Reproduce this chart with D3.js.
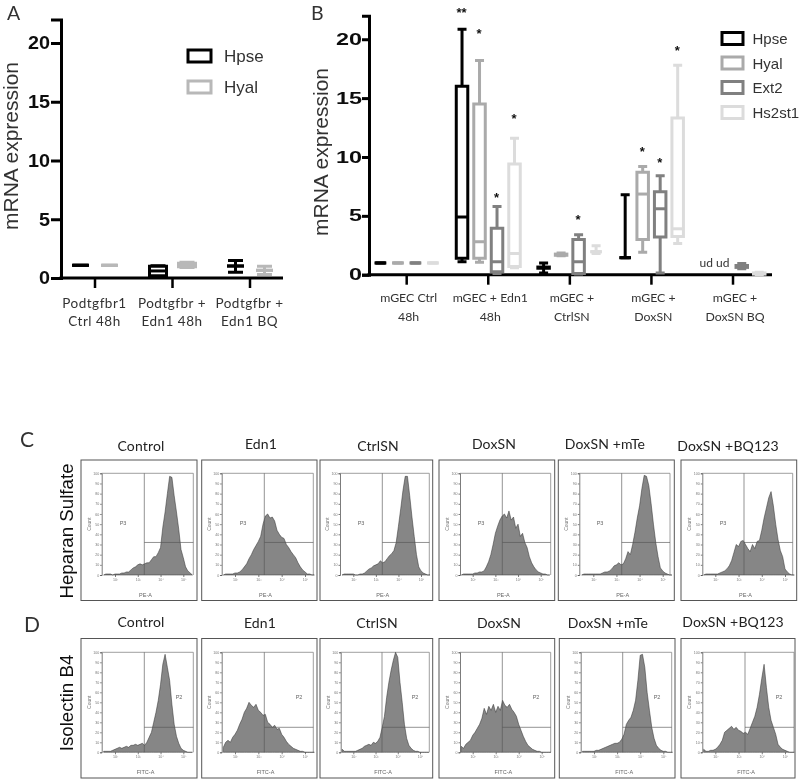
<!DOCTYPE html>
<html>
<head>
<meta charset="utf-8">
<script src="https://cdn.jsdelivr.net/npm/d3@7"></script>
<style>
  html, body { margin: 0; background: #fff; }
  svg { display: block; }
  text { fill: #333; }
  .arial { font-family: "Liberation Sans", Arial, sans-serif; }
  .label { font-family: Lato, sans-serif; }
  .flow-axis text { font-family: "Liberation Sans", sans-serif; font-size: 3.6px; fill: #777; }
</style>
</head>
<body>
<script>
// box values are [min, q1, median, q3, max]
var seriesA = ["Hpse", "Hyal"];
var categoriesA = ["Podtgfbr1|Ctrl 48h", "Podtgfbr +|Edn1 48h", "Podtgfbr +|Edn1 BQ"];
var hpseA = [[1.08, 1.08, 1.08, 1.08, 1.08], [0.15, 0.2, 0.6, 1.0, 1.05], [0.5, 1.02, 1.02, 1.02, 1.5]];
var hyalA = [[1.08, 1.08, 1.08, 1.08, 1.08], [0.9, 0.95, 1.1, 1.25, 1.35], [0.3, 0.65, 0.65, 0.65, 1.0]];

var seriesB = ["Hpse", "Hyal", "Ext2", "Hs2st1"];
var categoriesB = ["mGEC Ctrl|48h", "mGEC + Edn1|48h", "mGEC +|CtrlSN", "mGEC +|DoxSN", "mGEC +|DoxSN BQ"];
var hpseB = [[1, 1, 1, 1, 1], [1.1, 1.4, 4.9, 16, 20.85], [0.15, 0.55, 0.6, 0.65, 1.0], [1.45, 1.45, 1.45, 1.45, 6.8], null];
var hyalB = [[1, 1, 1, 1, 1], [1.05, 1.4, 2.8, 14.5, 18.2], [1.6, 1.65, 1.7, 1.75, 1.85], [1.9, 3.0, 6.85, 8.7, 9.2], null];
var ext2B = [[1, 1, 1, 1, 1], [0.1, 0.25, 1.1, 3.95, 5.8], [0.05, 0.1, 1.1, 3.0, 3.4], [0.15, 3.2, 5.6, 7.05, 8.4], [0.5, 0.62, 0.7, 0.78, 0.95]];
var hs2st1B = [[1, 1, 1, 1, 1], [0.6, 0.7, 1.8, 9.4, 11.6], [1.8, 1.95, 1.95, 1.95, 2.45], [2.65, 3.25, 3.9, 13.3, 17.8], [0, 0.05, 0.1, 0.15, 0.2]];

// significance marks: [category index, series index, mark, value]
var marksB = [
  [1, 0, "**", 22.4], [1, 1, "*", 20.6], [1, 2, "*", 6.7], [1, 3, "*", 13.4],
  [2, 2, "*", 4.85], [3, 1, "*", 10.6], [3, 2, "*", 9.7], [3, 3, "*", 19.2]
];
var yTicksBox = [0, 5, 10, 15, 20];

var flowTitles = ["Control", "Edn1", "CtrlSN", "DoxSN", "DoxSN +mTe", "DoxSN +BQ123"];
var flowLogBins = [1.5, 1.6, 1.7, 1.8, 1.9, 2.0, 2.1, 2.2, 2.3, 2.4, 2.5, 2.6, 2.7, 2.8, 2.9, 3.0, 3.1, 3.2, 3.3, 3.4,
  3.5, 3.6, 3.7, 3.8, 3.9, 4.0, 4.1, 4.2, 4.3, 4.4, 4.5, 4.6, 4.7, 4.8, 4.9, 5.0, 5.1, 5.2, 5.3, 5.4];
var flowXTicks = [2, 3, 4, 5];
var flowYTicks = [0, 10, 20, 30, 40, 50, 60, 70, 80, 90, 100];

// heparan sulfate histograms, counts as % of the axis
var hsControl = [0,1,1,1,0,1,1,1,2,2,3,3,5,7,8,10,11,10,11,12,12,15,18,18,22,27,47,62,80,97,96,78,62,45,25,17,8,4,2,0];
var hsEdn1 = [0,1,1,1,1,2,2,3,5,8,11,16,20,25,29,33,38,50,58,60,56,57,53,44,40,37,36,30,27,23,20,17,12,8,5,3,1,1,0,0];
var hsCtrlSN = [0,1,1,1,1,1,0,0,1,1,2,4,6,7,9,10,11,14,12,13,16,19,21,24,32,48,65,83,97,97,78,57,38,20,8,4,2,1,0,0];
var hsDoxSN = [0,1,1,1,1,1,2,2,3,3,4,8,13,20,30,41,48,54,58,60,56,63,54,57,46,50,38,41,32,27,18,12,8,5,3,2,1,1,0,0];
var hsMTe = [0,1,1,1,1,1,1,1,1,2,3,3,4,6,9,10,12,10,11,16,23,20,30,42,56,68,85,98,97,88,70,50,32,18,7,4,2,1,0,0];
var hsBQ = [0,1,1,1,1,1,1,2,3,4,6,9,14,22,30,28,33,34,30,26,23,30,26,33,34,44,56,66,76,82,68,50,35,24,18,6,3,1,0,0];

// isolectin B4 histograms
var ibControl = [1,1,1,1,2,3,4,5,4,5,6,5,7,7,8,7,8,9,7,10,15,20,30,40,52,68,88,98,85,72,48,28,16,9,4,2,1,0,0,0];
var ibEdn1 = [5,10,12,10,15,18,22,28,33,40,44,50,47,45,48,42,40,37,38,30,28,25,27,23,24,18,15,11,8,6,4,3,2,1,1,0,0,0,0,0];
var ibCtrlSN = [3,1,1,1,1,1,1,2,3,4,6,7,8,7,10,9,11,15,25,36,55,70,82,92,100,95,70,50,28,14,7,4,2,1,1,0,0,0,0,0];
var ibDoxSN = [6,4,8,10,12,17,20,24,28,34,44,38,46,42,48,40,46,42,52,47,45,48,43,40,36,28,22,16,11,7,5,3,2,1,1,0,0,0,0,0];
var ibMTe = [1,1,1,1,1,1,2,2,3,4,5,6,7,8,9,9,10,13,18,28,32,35,42,52,72,97,98,85,60,42,25,14,7,4,2,1,1,0,0,0];
var ibBQ = [3,1,1,2,2,3,5,8,12,20,22,24,26,23,25,22,21,19,20,18,24,30,36,45,58,74,88,65,45,32,25,18,8,5,3,2,1,0,0,0];

var width = 800, height = 781;

var svg = d3.select("body").append("svg")
    .attr("width", width)
    .attr("height", height)
    .attr("viewBox", `0 0 ${width} ${height}`);

svg.append("defs").append("filter")
    .attr("id", "soft")
    .attr("filterUnits", "userSpaceOnUse")
    .attr("x", 0).attr("y", 0)
    .attr("width", width).attr("height", height)
    .append("feGaussianBlur")
    .attr("stdDeviation", 0.4);

var root = svg.append("g").attr("filter", "url(#soft)");

function panelLetter(letter, x, y, size) {
  root.append("text").attr("class", "label")
      .attr("x", x).attr("y", y)
      .style("font-size", size + "px")
      .text(letter);
}

function boxPanel(opts) {
  var g = root.append("g");
  var y = d3.scaleLinear().domain([0, 22]).range([opts.y0, opts.yTop]);
  var x = d3.scaleBand().domain(opts.categories).range(opts.bandRange);
  var xSub = d3.scaleBand().domain(opts.series).range(opts.subRange);

  var yAxis = g.append("g")
      .attr("transform", `translate(${opts.axisLeft},0)`)
      .call(d3.axisLeft(y).tickValues(yTicksBox).tickSize(opts.yTick).tickPadding(opts.yTickPad));
  yAxis.selectAll("path, line").attr("stroke", "#000").attr("stroke-width", 3);
  // digits in the source are wider than the font, stretch them per character
  yAxis.selectAll("text").attr("class", "arial")
      .attr("textLength", d => String(d).length * opts.digitW)
      .attr("lengthAdjust", "spacingAndGlyphs")
      .style("font-size", opts.digitSize + "px").style("font-weight", "bold").style("fill", "#111");

  var xAxis = g.append("g")
      .attr("transform", `translate(0,${opts.y0})`)
      .call(d3.axisBottom(x).tickSize(10).tickFormat(""));
  xAxis.select(".domain").remove();
  xAxis.selectAll("line").attr("stroke", "#000").attr("stroke-width", 2.5);
  g.append("line")
      .attr("x1", opts.axisLeft - 1.5).attr("x2", opts.axisRight)
      .attr("y1", opts.y0).attr("y2", opts.y0)
      .attr("stroke", "#000").attr("stroke-width", 3);

  // two line category labels
  opts.categories.forEach(function(c, i) {
    c.split("|").forEach(function(line, j) {
      g.append("text").attr("class", "label")
          .attr("x", x(c) + x.bandwidth() / 2 + opts.labelShift)
          .attr("y", opts.labelY + j * opts.labelGap)
          .attr("text-anchor", "middle")
          .style("font-size", opts.labelSize + "px")
          .style("letter-spacing", opts.labelSpacing + "px")
          .text(line);
    });
  });

  opts.series.forEach(function(name, s) {
    var col = opts.colors[s];
    var cx = function(i) { return x(opts.categories[i]) + x.bandwidth() / 2 + xSub(name) + xSub.bandwidth() / 2; };
    var boxes = g.append("g").selectAll("g")
        .data(opts.values[s].map((d, i) => ({ v: d, i: i })).filter(d => d.v))
        .enter().append("g")
        .attr("fill", "none")
        .attr("stroke", col)
        .attr("stroke-width", 3);

    // whiskers
    boxes.append("path")
        .attr("d", function(d) {
          var c = cx(d.i), h = opts.capW / 2;
          return `M${c},${y(d.v[0])}V${y(d.v[4])}M${c - h},${y(d.v[0])}H${c + h}M${c - h},${y(d.v[4])}H${c + h}`;
        });
    // box, white inside
    boxes.append("path")
        .attr("fill", "#fff")
        .attr("d", function(d) {
          var c = cx(d.i), h = opts.boxW / 2;
          return `M${c - h},${y(d.v[1])}H${c + h}V${y(d.v[3])}H${c - h}Z`;
        });
    // median
    boxes.append("path")
        .attr("d", function(d) {
          var c = cx(d.i), h = opts.boxW / 2;
          return `M${c - h},${y(d.v[2])}H${c + h}`;
        });
  });

  g.append("text").attr("class", "arial")
      .attr("transform", `translate(${opts.titleX},${opts.titleY}) rotate(-90)`)
      .attr("text-anchor", "middle")
      .attr("textLength", 168)
      .attr("lengthAdjust", "spacingAndGlyphs")
      .style("font-size", "19.5px")
      .text("mRNA expression");

  // legend
  opts.series.forEach(function(name, s) {
    var ly = opts.legendY[s];
    g.append("rect")
        .attr("x", opts.legendX).attr("y", ly)
        .attr("width", opts.legendW).attr("height", 12)
        .attr("fill", "#fff")
        .attr("stroke", opts.colors[s]).attr("stroke-width", 3);
    g.append("text").attr("class", "arial")
        .attr("x", opts.legendX + opts.legendW + opts.legendGap).attr("y", ly + 11.5)
        .style("font-size", opts.legendSize + "px")
        .text(name);
  });

  return { x: x, xSub: xSub, y: y, g: g };
}

panelLetter("A", 7, 19.5, 19.5);
boxPanel({
  categories: categoriesA, series: seriesA, values: [hpseA, hyalA],
  colors: ["#000", "#b8b8b8"],
  y0: 278, yTop: 19.5, axisLeft: 61, axisRight: 283,
  yTick: 10, yTickPad: 1, digitSize: 18.5, digitW: 11,
  bandRange: [56.25, 288.75], subRange: [-29, 29],
  boxW: 17, capW: 15,
  labelShift: -0.5, labelY: 308, labelGap: 18, labelSize: 13.5, labelSpacing: 0.5,
  titleX: 18, titleY: 146,
  legendX: 188, legendW: 23, legendY: [50, 81], legendGap: 13, legendSize: 17
});

panelLetter("B", 311, 19.5, 19.5);
var panelB = boxPanel({
  categories: categoriesB, series: seriesB, values: [hpseB, hyalB, ext2B, hs2st1B],
  colors: ["#000", "#aaaaaa", "#808080", "#dcdcdc"],
  y0: 274.7, yTop: 15.7, axisLeft: 369, axisRight: 772,
  yTick: 7, yTickPad: 0, digitSize: 16, digitW: 13,
  bandRange: [365.9, 773.8], subRange: [-35, 35],
  boxW: 11.5, capW: 9,
  labelShift: 2, labelY: 302, labelGap: 19, labelSize: 12.3, labelSpacing: 0,
  titleX: 328, titleY: 152,
  legendX: 722, legendW: 21, legendY: [32.5, 57, 81.5, 106.5], legendGap: 9.5, legendSize: 15
});

panelB.g.selectAll(".mark")
    .data(marksB)
    .enter().append("text")
    .attr("class", "arial")
    .attr("x", d => panelB.x(categoriesB[d[0]]) + panelB.x.bandwidth() / 2 + panelB.xSub(seriesB[d[1]]) + panelB.xSub.bandwidth() / 2 - 0.5)
    .attr("y", d => panelB.y(d[3]) + 6)
    .attr("text-anchor", "middle")
    .style("font-size", "13px")
    .style("font-weight", "bold")
    .style("fill", "#111")
    .text(d => d[2]);

root.append("text").attr("class", "label")
    .attr("x", 714.5).attr("y", 266.7)
    .attr("text-anchor", "middle")
    .style("font-size", "12px")
    .text("ud ud");

// flow cytometry rows
function flowRow(opts) {
  panelLetter(opts.letter, opts.letterX, opts.letterY, 21);

  root.append("text").attr("class", "arial")
      .attr("transform", `translate(73,${opts.rowMid}) rotate(-90)`)
      .attr("text-anchor", "middle")
      .style("font-size", "18.7px")
      .style("fill", "#111")
      .text(opts.rowLabel);

  opts.hist.forEach(function(values, i) {
    var L = opts.layout[i];
    var g = root.append("g");
    g.append("rect")
        .attr("x", L.frame[0]).attr("y", opts.frameY[0])
        .attr("width", L.frame[1] - L.frame[0]).attr("height", opts.frameY[1] - opts.frameY[0])
        .attr("fill", "#fff").attr("stroke", "#555").attr("stroke-width", 1);

    g.append("text").attr("class", "label")
        .attr("x", L.titleX).attr("y", L.titleY)
        .attr("text-anchor", "middle")
        .style("font-size", "14px")
        .style("letter-spacing", "0.15px")
        .style("fill", "#222")
        .text(flowTitles[i]);

    var x = d3.scaleLinear().domain([2, 5]).range([L.t2, L.t5]);
    var y = d3.scaleLinear().domain([0, 100]).range([opts.plotY[1], opts.plotY[0]]);

    // plot border
    g.append("path")
        .attr("d", `M${L.plot[0]},${opts.plotY[0]}H${L.plot[1]}V${opts.plotY[1]}`)
        .attr("fill", "none").attr("stroke", "#888").attr("stroke-width", 0.8);

    g.append("path")
        .datum(values)
        .attr("fill", "#868686")
        .attr("stroke", "#2e2e2e")
        .attr("stroke-width", 0.5)
        .attr("d", d3.area()
            .x((d, j) => x(flowLogBins[j]))
            .y0(y(0))
            .y1(d => y(d)));

    // gates
    g.append("path")
        .attr("d", `M${L.gate},${opts.plotY[0]}V${opts.plotY[1]}M${L.gate},${y(opts.gateY)}H${L.plot[1]}`)
        .attr("fill", "none").attr("stroke", "#555").attr("stroke-opacity", 0.8).attr("stroke-width", 0.8);

    var gy = g.append("g").attr("class", "flow-axis")
        .attr("transform", `translate(${L.plot[0]},0)`)
        .call(d3.axisLeft(y).tickValues(flowYTicks).tickSize(1.5).tickPadding(1).tickFormat(d => d3.format("d")(d)));
    gy.selectAll("path, line").attr("stroke", "#444").attr("stroke-width", 0.7);

    var gx = g.append("g").attr("class", "flow-axis")
        .attr("transform", `translate(0,${opts.plotY[1]})`)
        .call(d3.axisBottom(x).tickValues(flowXTicks).tickSize(2).tickPadding(1).tickFormat(d => "10" + "\u2070\u00B9\u00B2\u00B3\u2074\u2075".charAt(d)));
    gx.select(".domain").remove();
    gx.selectAll("line").attr("stroke", "#444").attr("stroke-width", 0.7);

    g.append("text").attr("class", "arial")
        .attr("transform", `translate(${L.plot[0] - 11},${y(50)}) rotate(-90)`)
        .attr("text-anchor", "middle")
        .style("font-size", "5px").style("fill", "#777")
        .text("Count");

    g.append("text").attr("class", "arial")
        .attr("x", (L.plot[0] + L.plot[1]) / 2 - 2).attr("y", opts.plotY[1] + 21.5)
        .attr("text-anchor", "middle")
        .style("font-size", "5.5px").style("fill", "#666")
        .text(opts.xName);

    g.append("text").attr("class", "arial")
        .attr("x", L.gateLabel).attr("y", y(opts.gateLabelY))
        .attr("text-anchor", "middle")
        .style("font-size", "5.5px").style("fill", "#666")
        .text(opts.gateName);
  });
}

flowRow({
  letter: "C", letterX: 20, letterY: 447,
  rowLabel: "Heparan Sulfate", rowMid: 531,
  frameY: [460, 600.5], plotY: [473.3, 575],
  gateY: 32, gateName: "P3", gateLabelY: 49, xName: "PE-A",
  hist: [hsControl, hsEdn1, hsCtrlSN, hsDoxSN, hsMTe, hsBQ],
  layout: [
    { frame: [81, 197], plot: [101.7, 193.3], gate: 144.3, t2: 115, t5: 183.3, titleX: 141, titleY: 451, gateLabel: 123 },
    { frame: [201.7, 317], plot: [221.7, 313.3], gate: 264.3, t2: 235, t5: 305, titleX: 261, titleY: 449, gateLabel: 243 },
    { frame: [320, 432.7], plot: [340, 429.3], gate: 382.3, t2: 353.3, t5: 421, titleX: 378, titleY: 451, gateLabel: 361 },
    { frame: [439, 554.7], plot: [460, 550.7], gate: 502.3, t2: 472.7, t5: 540.7, titleX: 494, titleY: 449, gateLabel: 481 },
    { frame: [558.3, 674.3], plot: [579.3, 670], gate: 621.7, t2: 593.3, t5: 662.7, titleX: 605, titleY: 449, gateLabel: 600 },
    { frame: [681, 796.7], plot: [702.3, 792.7], gate: 744, t2: 715.3, t5: 785, titleX: 728, titleY: 451, gateLabel: 723 }
  ]
});

flowRow({
  letter: "D", letterX: 24, letterY: 632,
  rowLabel: "Isolectin B4", rowMid: 703,
  frameY: [638.5, 778], plotY: [652.3, 752.3],
  gateY: 25, gateName: "P2", gateLabelY: 53, xName: "FITC-A",
  hist: [ibControl, ibEdn1, ibCtrlSN, ibDoxSN, ibMTe, ibBQ],
  layout: [
    { frame: [81, 197], plot: [101.7, 193.3], gate: 144.3, t2: 115, t5: 183.3, titleX: 141, titleY: 627, gateLabel: 179 },
    { frame: [201.7, 317], plot: [221.7, 313.3], gate: 264.3, t2: 235, t5: 305, titleX: 260, titleY: 628, gateLabel: 299 },
    { frame: [320, 432.7], plot: [340.7, 429.3], gate: 382, t2: 353.3, t5: 420, titleX: 377, titleY: 628, gateLabel: 415 },
    { frame: [439, 554.7], plot: [460, 550.7], gate: 502.3, t2: 472.7, t5: 541.7, titleX: 499, titleY: 628, gateLabel: 536 },
    { frame: [559.3, 675], plot: [580.7, 671.7], gate: 622.7, t2: 594, t5: 663.3, titleX: 608, titleY: 628, gateLabel: 657 },
    { frame: [681, 795], plot: [702.3, 794], gate: 745, t2: 715.3, t5: 785, titleX: 733, titleY: 627, gateLabel: 779 }
  ]
});
</script>
</body>
</html>
